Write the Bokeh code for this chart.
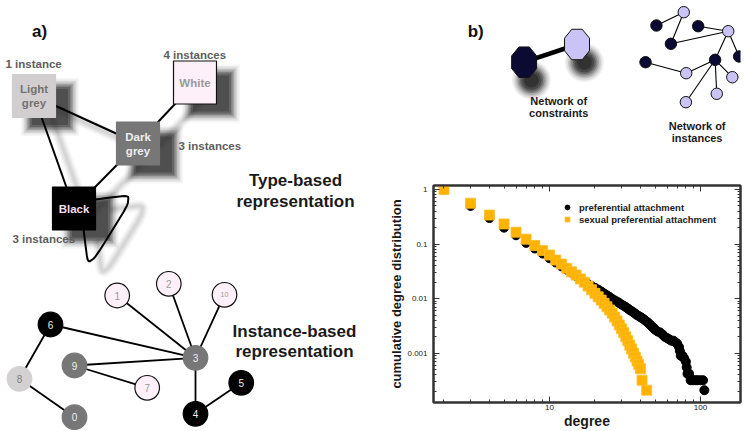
import numpy as np
from bokeh.plotting import figure
from bokeh.layouts import row, column
from bokeh.models import Range1d, FixedTicker, LogAxis, CustomJSTickFormatter, Legend, LegendItem
from bokeh.core.properties import value
from bokeh.embed import file_html
from bokeh.resources import INLINE

FONT = "Liberation Sans"

# ---------------- panel a) : type-based representation ----------------
type_label_lines = [["Light", "grey"], ["White"], ["Dark", "grey"], ["Black"]]
type_x = [33.5, 194.5, 137.5, 73.5]
type_y = [95.5, 82.0, 143.0, 208.0]
type_fill = ["#D2CED0", "#FDF0F8", "#777777", "#000000"]
type_text_color = ["#727272", "#9A9A9A", "#EEEEEE", "#F6DDF2"]
type_border = ["#D2CED0", "#111111", "#777777", "#000000"]
type_counts = ["1 instance", "4 instances", "3 instances", "3 instances"]
count_x = [5, 163, 178, 12]
count_y = [63, 54, 145, 238]
type_edges = [(0, 2), (0, 3), (1, 2), (2, 3)]
loop_x = [95, 134, 88, 83]
loop_y = [199, 194, 268, 229]

# ---------------- panel a) : instance-based representation -------------
inst_labels = ["0", "1", "2", "3", "4", "5", "6", "7", "8", "9", "10"]
inst_x = [74, 116.7, 168.3, 195, 195, 240.7, 50, 146.7, 19, 74, 224]
inst_y = [416.7, 295, 283.3, 357.3, 413.3, 382.3, 324, 387.3, 378.3, 365, 294.3]
inst_kind = ["grey", "white", "white", "grey", "black", "black", "black", "white", "light", "grey", "white"]
inst_edges = [(1, 3), (2, 3), (10, 3), (6, 3), (9, 3), (9, 7), (6, 8), (8, 0), (3, 4), (4, 5)]
kind_fill = {"white": "#FDF0F8", "black": "#000000", "grey": "#777777", "light": "#D4D1D3"}
kind_line = {"white": "#111111", "black": "#000000", "grey": "#777777", "light": "#D4D1D3"}
kind_text = {"white": "#9A9A9A", "black": "#EEEEEE", "grey": "#EEEEEE", "light": "#7E7E7E"}

# ---------------- panel b) : constraint / instance networks ------------
octa_x = [480.7, 545.3]
octa_y = [61.7, 44.0]
octa_fill = ["#0A0A33", "#C9C3F6"]
net_x = [675.7, 642.3, 693.3, 730, 660, 743.3, 714, 629, 678.7, 735, 716, 678.3]
net_y = [11.7, 25, 25.7, 30.7, 43.3, 56, 59.3, 61.7, 72.7, 76.7, 93.3, 101.7]
net_kind = ["lav", "dark", "dark", "lav", "dark", "dark", "dark", "dark", "lav", "lav", "lav", "lav"]
net_edges = [(1, 0), (0, 4), (4, 3), (2, 3), (3, 6), (3, 5), (6, 8), (7, 8), (6, 9), (6, 10), (6, 11)]
net_fill = {"lav": "#C9C3F6", "dark": "#0A0A33"}

# ---------------- panel b) : degree distributions ---------------------
pa_degree = [2, 3, 4, 5, 6, 7, 8, 9, 10, 11, 12, 13, 14, 15, 16, 17, 18, 19, 20,
             21, 22, 23, 24, 25, 26, 27, 28, 29, 30, 31, 32, 33, 34, 35, 36, 37, 38, 39, 40,
             41, 42, 43, 44, 45, 46, 47, 48, 49, 50, 52, 54, 56, 58, 60, 62, 64, 66, 68, 70,
             72, 73, 74, 76, 78, 80, 81, 82, 84, 86, 88, 90, 93, 96, 100, 104, 106]
pa_cdf = [1.0, 0.50, 0.30, 0.20, 0.145, 0.105, 0.083, 0.067, 0.055, 0.046, 0.039, 0.034,
          0.030, 0.026, 0.023, 0.020, 0.0185, 0.017, 0.0158,
          0.0146, 0.0135, 0.0124, 0.0115, 0.0107, 0.0099, 0.0093, 0.0088, 0.0083, 0.0078,
          0.0074, 0.0070, 0.0066, 0.0062, 0.0059, 0.0056, 0.0053, 0.0050, 0.0048, 0.0046,
          0.0044, 0.0042, 0.0040, 0.0038, 0.0036, 0.0034, 0.0032, 0.0030, 0.0029, 0.0027,
          0.0025, 0.0024, 0.0022, 0.0020, 0.0019, 0.0018, 0.0017, 0.0017, 0.0016, 0.0015,
          0.0013, 0.0011, 0.0009, 0.0009, 0.0008, 0.0007, 0.00055, 0.00042, 0.00042,
          0.00032, 0.00032, 0.00032, 0.00032, 0.00032, 0.00032, 0.00032, 0.00021]
spa_degree = [2, 3, 4, 5, 6, 7, 8, 9, 10, 11, 12, 13, 14, 15, 16, 17, 18, 19, 20,
              21, 22, 23, 24, 25, 26, 27, 28, 29, 30, 31, 32, 33, 34, 35, 36, 37, 38, 39, 40, 41, 44]
spa_cdf = [1.0, 0.56, 0.34, 0.234, 0.165, 0.123, 0.094, 0.076, 0.063, 0.051, 0.043, 0.036,
           0.031, 0.027, 0.023, 0.020, 0.017, 0.0145, 0.0125,
           0.0108, 0.0094, 0.0082, 0.0071, 0.0062, 0.0054, 0.0046, 0.0039, 0.0033, 0.0028,
           0.0024, 0.0020, 0.0017, 0.0014, 0.0012, 0.0010, 0.00085, 0.00072, 0.00062,
           0.00052, 0.00032, 0.00021]
x_major = [10, 100]
x_major_labels = ["10", "100"]
x_minor = [2, 3, 4, 5, 6, 7, 8, 9, 20, 30, 40, 50, 60, 70, 80, 90, 200]
y_major = [0.001, 0.01, 0.1, 1]
y_major_labels = ["0.001", "0.01", "0.1", "1"]
y_minor = [m * d for d in [0.0001, 0.001, 0.01, 0.1] for m in range(2, 10)]


def chaikin(xs, ys, n=3, r=0.15):
    pts = np.column_stack([xs, ys]).astype(float)
    for _ in range(n):
        new = [pts[0]]
        for a, b in zip(pts[:-1], pts[1:]):
            new.append((1 - r) * a + r * b)
            new.append(r * a + (1 - r) * b)
        new.append(pts[-1])
        pts = np.array(new)
    return list(pts[:, 0]), list(pts[:, 1])


def txt(fig, x, y, t, size, color, bold=True, align="center"):
    fig.text(x=x, y=y, text=t, text_font=value(FONT), text_font_size=size,
             text_font_style="bold" if bold else "normal", text_color=color,
             text_align=align, text_baseline="middle")


# ======================= left figure =======================
pa = figure(width=370, height=431, x_range=Range1d(0, 370), y_range=Range1d(431, 0),
            output_backend="svg", toolbar_location=None, min_border=0)
pa.axis.visible = False
pa.grid.visible = False
pa.outline_line_color = None

SH = (14, 10)
ex = [[type_x[a] + SH[0], type_x[b] + SH[0]] for a, b in type_edges]
ey = [[type_y[a] + SH[1], type_y[b] + SH[1]] for a, b in type_edges]
lx, ly = chaikin(loop_x, loop_y)
ex.append([v + SH[0] for v in lx])
ey.append([v + SH[1] for v in ly])
for w, a in [(12, 0.08), (9, 0.12), (6, 0.18), (3, 0.2)]:
    pa.multi_line(xs=ex, ys=ey, line_color="#AAAAAA", line_width=w, line_alpha=a)

# square shadows (blurred)
for s, a in [(58, 0.04), (55, 0.06), (52, 0.09), (49, 0.13), (46, 0.18), (43, 0.24),
             (40, 0.28), (36, 0.3)]:
    pa.rect(x=[v + 16 for v in type_x], y=[v + 11 for v in type_y], width=s, height=s,
            fill_color="#1E1E1E", fill_alpha=a, line_color=None)

pa.multi_line(xs=[[type_x[a], type_x[b]] for a, b in type_edges],
              ys=[[type_y[a], type_y[b]] for a, b in type_edges],
              line_color="black", line_width=2)
pa.line(x=lx, y=ly, line_color="black", line_width=2)

pa.rect(x=type_x, y=type_y, width=43, height=43, fill_color=type_fill, line_color=type_border,
        line_width=1.2)
for i, lines in enumerate(type_label_lines):
    n = len(lines)
    for j, t in enumerate(lines):
        txt(pa, [type_x[i]], [type_y[i] + (j - (n - 1) / 2) * 14], [t], "11.5px", type_text_color[i])
txt(pa, count_x, count_y, type_counts, "11.5px", "#5E5E5E", align="left")

txt(pa, [39], [31], ["a)"], "17px", "#111111")
txt(pa, [295, 295], [180, 201], ["Type-based", "representation"], "17px", "#1A1A1A")
txt(pa, [294, 294], [331, 351], ["Instance-based", "representation"], "17px", "#1A1A1A")

pa.multi_line(xs=[[inst_x[a], inst_x[b]] for a, b in inst_edges],
              ys=[[inst_y[a], inst_y[b]] for a, b in inst_edges],
              line_color="black", line_width=1.8)
pa.circle(x=inst_x, y=inst_y, radius=12.3,
          fill_color=[kind_fill[k] for k in inst_kind],
          line_color=[kind_line[k] for k in inst_kind], line_width=1.2)
pa.text(x=inst_x, y=inst_y, text=inst_labels, text_font=value(FONT),
        text_font_size=["7px" if len(l) > 1 else "10px" for l in inst_labels],
        text_color=[kind_text[k] for k in inst_kind], text_align="center", text_baseline="middle")

# ======================= top right figure =======================
pb = figure(width=375, height=175, x_range=Range1d(370, 745), y_range=Range1d(175, 0),
            output_backend="svg", toolbar_location=None, min_border=0)
pb.axis.visible = False
pb.grid.visible = False
pb.outline_line_color = None

for r, a in [(24, 0.05), (22, 0.08), (20, 0.11), (18, 0.15), (16, 0.2), (14, 0.25),
             (12, 0.28), (9, 0.3)]:
    pb.circle(x=[v + 9 for v in octa_x], y=[v + 18 for v in octa_y], radius=r,
              fill_color="black", fill_alpha=a, line_color=None)
pb.line(x=octa_x, y=octa_y, line_color="black", line_width=4.5)
ang = np.deg2rad(22.5 + 45 * np.arange(8))
R = 16.5
pb.patches(xs=[list(cx + R * np.cos(ang)) for cx in octa_x],
           ys=[list(cy + R * np.sin(ang)) for cy in octa_y],
           fill_color=octa_fill, line_color="#111111", line_width=1)
txt(pb, [523, 523], [100, 112], ["Network of", "constraints"], "11px", "#1A1A1A")

pb.multi_line(xs=[[net_x[a], net_x[b]] for a, b in net_edges],
              ys=[[net_y[a], net_y[b]] for a, b in net_edges],
              line_color="black", line_width=1.1)
pb.circle(x=net_x, y=net_y, radius=7, fill_color=[net_fill[k] for k in net_kind],
          line_color="#111111", line_width=1)
txt(pb, [692, 692], [125, 137], ["Network of", "instances"], "11px", "#1A1A1A")
txt(pb, [421.5], [31], ["b)"], "17px", "#111111")

# ======================= log-log plot =======================
pc = figure(width=375, height=256, x_axis_type="log", y_axis_type="log",
            x_range=Range1d(1.705, 184), y_range=Range1d(1.25e-4, 1.184),
            output_backend="svg", toolbar_location=None,
            min_border_left=63, min_border_right=5, min_border_top=10, min_border_bottom=29)
pc.grid.visible = False
pc.outline_line_color = "#333333"
pc.outline_line_width = 2

r_pa = pc.scatter(x=pa_degree, y=pa_cdf, marker="circle", size=9, fill_color="black", line_color="black")
r_spa = pc.scatter(x=spa_degree, y=spa_cdf, marker="square", size=10, fill_color="#FFB300",
                   line_color="#FFBE2A", line_width=0.8)

pc.xaxis.ticker = FixedTicker(ticks=x_major, minor_ticks=x_minor)
pc.yaxis.ticker = FixedTicker(ticks=y_major, minor_ticks=y_minor)
pc.yaxis.major_label_overrides = dict(zip(y_major, y_major_labels))
pc.xaxis.major_label_overrides = dict(zip(x_major, x_major_labels))
pc.xaxis.axis_label = "degree"
pc.yaxis.axis_label = "cumulative degree distribution"
for ax in [pc.xaxis[0], pc.yaxis[0]]:
    ax.axis_label_text_font = FONT
    ax.axis_label_text_font_style = "bold"
    ax.axis_label_text_color = "#1A1A1A"
    ax.major_label_text_font = FONT
    ax.major_label_text_font_size = "8px"
    ax.major_label_text_color = "#222222"
pc.xaxis.axis_label_text_font_size = "14px"
pc.yaxis.axis_label_text_font_size = "13px"
pc.xaxis.major_label_standoff = 2
pc.xaxis.axis_label_standoff = 0
pc.yaxis.major_label_standoff = 6
pc.yaxis.axis_label_standoff = 0

blank = CustomJSTickFormatter(code="return ''")
pc.add_layout(LogAxis(ticker=FixedTicker(ticks=y_major, minor_ticks=y_minor), formatter=blank,
                      major_label_standoff=0, major_label_text_font_size="0px"), "right")
pc.add_layout(LogAxis(ticker=FixedTicker(ticks=x_major, minor_ticks=x_minor), formatter=blank,
                      major_label_standoff=0, major_label_text_font_size="0px"), "above")
for ax in pc.axis:
    ax.axis_line_color = "#333333"
    ax.axis_line_width = 2
    ax.major_tick_in = 6
    ax.major_tick_out = 0
    ax.minor_tick_in = 3
    ax.minor_tick_out = 0
    ax.major_tick_line_color = "#333333"
    ax.minor_tick_line_color = "#333333"

legend = Legend(items=[LegendItem(label="preferential attachment", renderers=[r_pa]),
                       LegendItem(label="sexual preferential attachment", renderers=[r_spa])],
                location=(128, 177), padding=0, spacing=0, glyph_width=12, glyph_height=12,
                label_height=12, label_standoff=6, border_line_color=None,
                background_fill_alpha=0, label_text_font=FONT, label_text_font_size="9.5px",
                label_text_font_style="bold", label_text_color="#1A1A1A", margin=0)
pc.add_layout(legend, "center")

layout = row(pa, column(pb, pc))
open("out.html", "w").write(file_html(layout, INLINE))
